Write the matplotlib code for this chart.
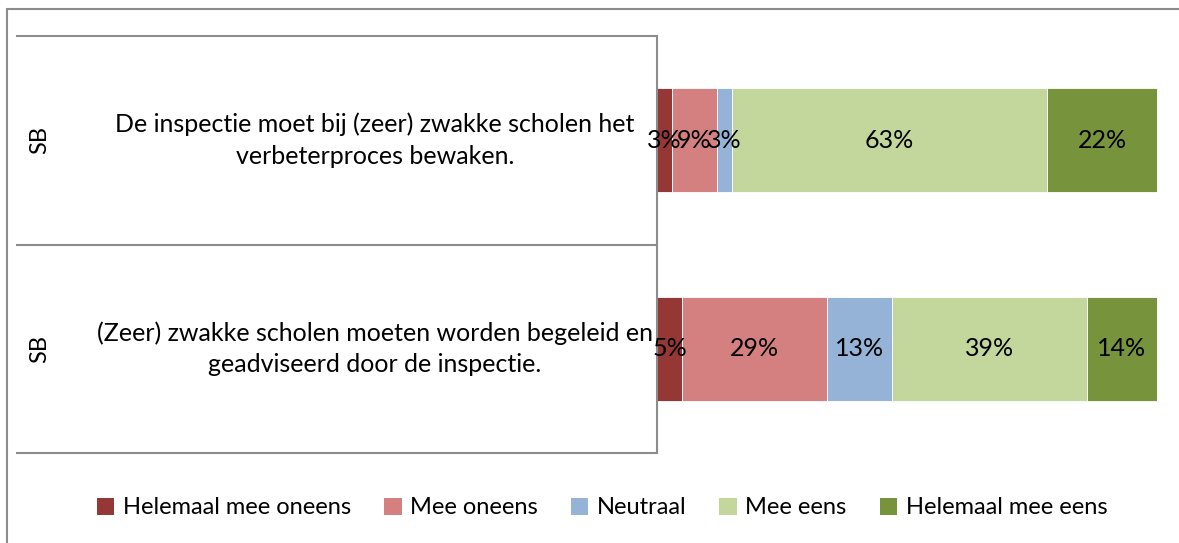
import numpy as np
import matplotlib
matplotlib.use("Agg")
import matplotlib.pyplot as plt
from matplotlib.patches import Rectangle, Patch

plt.rcParams['font.family'] = ['Lato', 'DejaVu Sans']

# data
groups = ["SB", "SB"]
statements = [
    "De inspectie moet bij (zeer) zwakke scholen het\nverbeterproces bewaken.",
    "(Zeer) zwakke scholen moeten worden begeleid en\ngeadviseerd door de inspectie.",
]
answers = ["Helemaal mee oneens", "Mee oneens", "Neutraal", "Mee eens", "Helemaal mee eens"]
helemaal_oneens = [3, 5]
oneens = [9, 29]
neutraal = [3, 13]
eens = [63, 39]
helemaal_eens = [22, 14]

colours = ["#953735", "#D48080", "#95B3D7", "#C3D69B", "#77933C"]
W, H = 1179, 543
grey = "#8c8c8c"


def px(x, y):
    # pixel (top-left origin) -> figure fraction
    return x / W, 1 - y / H


fig = plt.figure(figsize=(W / 100, H / 100), dpi=100)

# outer frame of the chart
fig.patches.append(Rectangle(px(7.5, 600), (1200 - 7.5) / W, (600 - 8.5) / H,
                             transform=fig.transFigure, fill=False,
                             edgecolor=grey, linewidth=1.5))

left, top = px(657, 36)
right, bottom = px(1157, 453)
ax = fig.add_axes([left, bottom, right - left, top - bottom])

series = [helemaal_oneens, oneens, neutraal, eens, helemaal_eens]
y = np.arange(len(statements))
start = np.zeros(len(statements))
for vals, col, name in zip(series, colours, answers):
    vals = np.array(vals, dtype=float)
    bars = ax.barh(y, vals, left=start, height=0.5, color=col,
                   edgecolor="white", linewidth=0.6, label=name)
    for b, v in zip(bars, vals):
        ax.text(b.get_x() + b.get_width() / 2, b.get_y() + b.get_height() / 2,
                f"{v:.0f}%", ha="center", va="center", fontsize=18, color="black")
    start += vals

ax.set_xlim(0, 100)
ax.set_ylim(1.5, -0.5)
ax.set_xticks([])
ax.set_yticks([])
for s in ["top", "right", "bottom"]:
    ax.spines[s].set_visible(False)
ax.spines["left"].set_color(grey)
ax.spines["left"].set_linewidth(1.5)

# category table on the left
x_line = (17 - 657) / 500
for yy in [-0.5, 0.5, 1.5]:
    ax.plot([x_line, 0], [yy, yy], color=grey, linewidth=1.5,
            transform=ax.get_yaxis_transform(), clip_on=False)
for i, (g, s) in enumerate(zip(groups, statements)):
    ax.text((40 - 657) / 500, i, g, rotation=90, ha="center", va="center",
            fontsize=17, transform=ax.get_yaxis_transform())
    ax.text((375 - 657) / 500, i, s, ha="center", va="center", fontsize=18,
            linespacing=1.45, transform=ax.get_yaxis_transform())

handles = [Patch(facecolor=c, label=a) for c, a in zip(colours, answers)]
fig.legend(handles=handles, loc="center", bbox_to_anchor=(px(602, 508)),
           ncol=5, frameon=False, fontsize=17, handlelength=0.75,
           handleheight=0.75, handletextpad=0.35, columnspacing=1.4)

fig.savefig("out.png", dpi=100)
